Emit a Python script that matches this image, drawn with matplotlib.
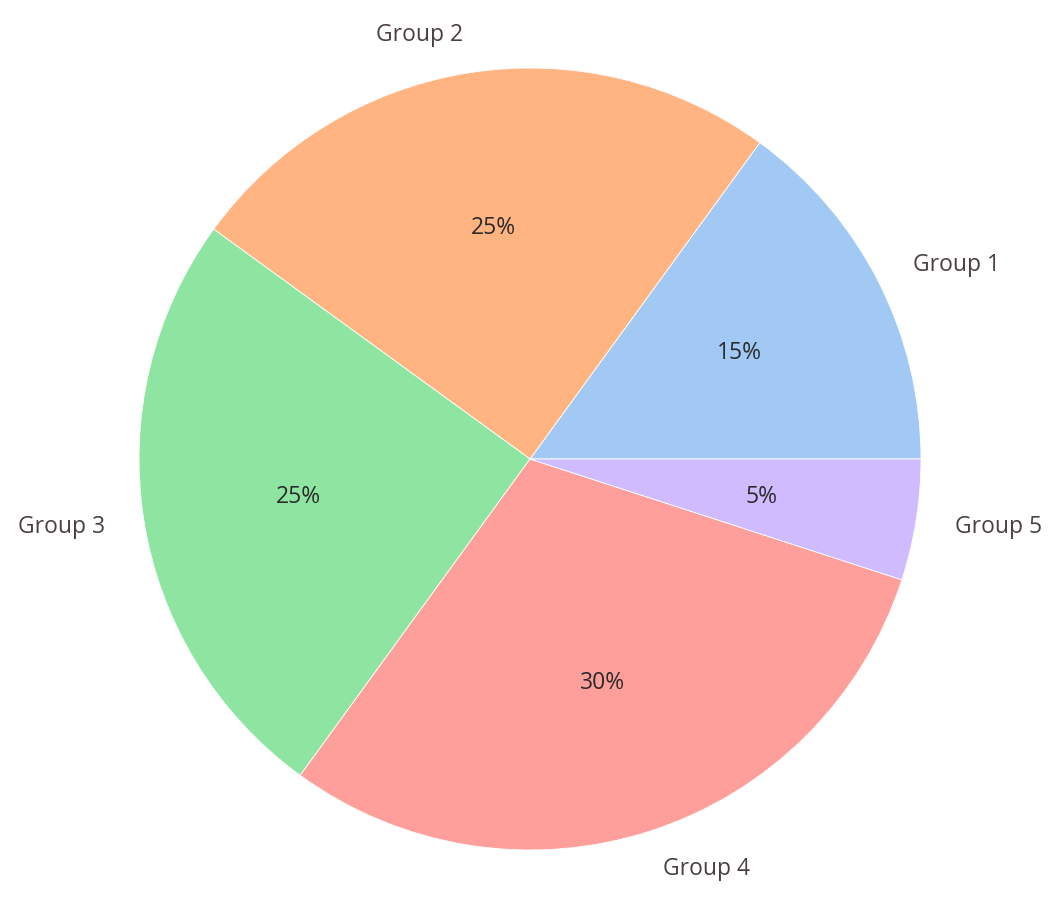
import matplotlib.pyplot as plt

groups = ['Group 1', 'Group 2', 'Group 3', 'Group 4', 'Group 5']
shares = [15, 25, 25, 30, 5]
colors = ['#a1c9f4', '#ffb482', '#8de5a1', '#ff9f9b', '#d0bbff']

plt.rcParams['font.family'] = ['Open Sans', 'DejaVu Sans']

fig = plt.figure(figsize=(10.61, 9.03), dpi=100)
# pie centre at (530, 460) px, radius ~391 px
ax = fig.add_axes([41.25 / 1061, -45.75 / 903, 977.5 / 1061, 977.5 / 903])
wedges, texts, autotexts = ax.pie(shares, labels=groups, colors=colors,
                                  autopct='%.0f%%',
                                  wedgeprops={'edgecolor': 'white', 'linewidth': 0.6},
                                  textprops={'fontsize': 16.5})
for t in texts:
    t.set_color('#4a4040')
for t in autotexts:
    t.set_color('#2b2b2b')
ax.set_xlim(-1.25, 1.25)
ax.set_ylim(-1.25, 1.25)
ax.set_aspect('auto')

fig.savefig('out.png', dpi=100)
